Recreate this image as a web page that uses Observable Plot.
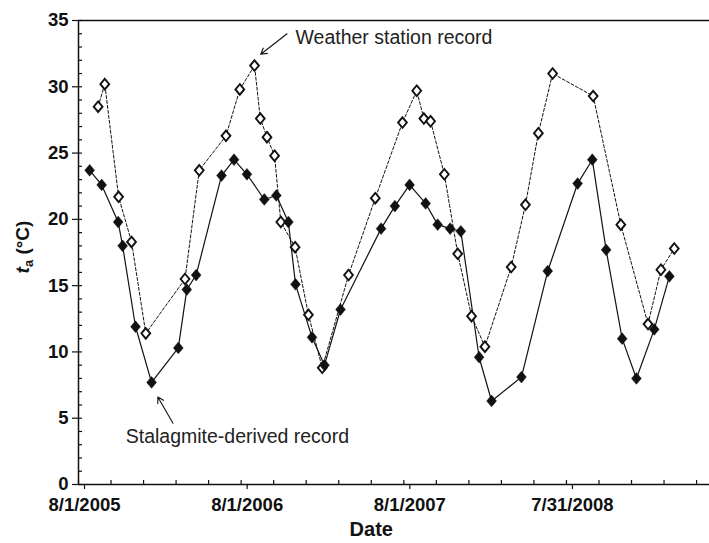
<!DOCTYPE html>
<html><head><meta charset="utf-8">
<script src="https://cdn.jsdelivr.net/npm/d3@7"></script>
<script src="https://cdn.jsdelivr.net/npm/@observablehq/plot@0.6"></script>
<style>body{margin:0;background:#fff} svg{display:block}</style>
</head><body><div id="chart"></div>
<script>
// Stalagmite-derived record (filled diamonds, solid line)
const stalDates = ["2005-08-26","2005-09-22","2005-10-29","2005-11-08","2005-12-07","2006-01-12","2006-03-13","2006-04-01","2006-04-22","2006-06-18","2006-07-16","2006-08-14","2006-09-22","2006-10-19","2006-11-15","2006-12-01","2007-01-07","2007-02-04","2007-03-12","2007-06-11","2007-07-12","2007-08-14","2007-09-19","2007-10-16","2007-11-13","2007-12-07","2008-01-17","2008-02-14","2008-04-21","2008-06-19","2008-08-25","2008-09-27","2008-10-28","2008-12-03","2009-01-04","2009-02-13","2009-03-19"];
const stalValues = [23.7,22.6,19.8,18.0,11.9,7.7,10.3,14.7,15.8,23.3,24.5,23.4,21.5,21.8,19.8,15.1,11.1,9.0,13.2,19.3,21.0,22.6,21.2,19.6,19.3,19.1,9.6,6.3,8.1,16.1,22.7,24.5,17.7,11.0,8.0,11.7,15.7];

// Weather station record (open diamonds, dashed line)
const wsDates = ["2005-09-14","2005-09-29","2005-10-30","2005-11-28","2005-12-30","2006-03-28","2006-04-29","2006-06-28","2006-07-29","2006-08-31","2006-09-13","2006-09-28","2006-10-15","2006-10-29","2006-11-30","2006-12-30","2007-01-30","2007-03-30","2007-05-29","2007-07-29","2007-08-30","2007-09-15","2007-09-30","2007-10-31","2007-11-30","2007-12-31","2008-01-30","2008-03-29","2008-04-30","2008-05-29","2008-06-30","2008-09-29","2008-11-30","2009-01-30","2009-02-28","2009-03-30"];
const wsValues = [28.5,30.2,21.7,18.3,11.4,15.5,23.7,26.3,29.8,31.6,27.6,26.2,24.8,19.8,17.9,12.8,8.8,15.8,21.6,27.3,29.7,27.6,27.4,23.4,17.4,12.7,10.4,16.4,21.1,26.5,31.0,29.3,19.6,12.1,16.2,17.8];

// Axis ticks
const xDomain = ["2005-08-01","2009-06-17"];
const xMajorTicks = ["2005-08-01","2006-08-01","2007-08-01","2008-07-31"];
const xTickLabels = ["8/1/2005","8/1/2006","8/1/2007","7/31/2008"];
const xMinorTicks = ["2005-10-13","2005-12-25","2006-03-08","2006-05-20","2006-10-13","2006-12-25","2007-03-08","2007-05-20","2007-10-13","2007-12-25","2008-03-07","2008-05-19","2008-10-12","2008-12-24","2009-03-07","2009-05-19"];
const yMajorTicks = [0,5,10,15,20,25,30,35];
const yMinorTicks = [1,2,3,4,6,7,8,9,11,12,13,14,16,17,18,19,21,22,23,24,26,27,28,29,31,32,33,34];

// Annotations
const annoLabels = ["Weather station record","Stalagmite-derived record"];
const annoTextDates = ["2006-12-01","2005-11-15"];
const annoTextValues = [33.7,3.62];
const arrowFromDates = ["2006-11-12","2006-03-01"];
const arrowFromValues = [34.0,4.62];
const arrowToDates = ["2006-09-14","2006-01-26"];
const arrowToValues = [32.45,6.6];
const xTitle = "Date";
const xTitleDate = "2007-05-20";

const P = s => new Date(s);
const stal = stalDates.map((d,i)=>({date:P(d), v:stalValues[i]}));
const ws = wsDates.map((d,i)=>({date:P(d), v:wsValues[i]}));
const labelMap = new Map(xMajorTicks.map((d,i)=>[+P(d), xTickLabels[i]]));
const annos = annoLabels.map((t,i)=>({t, x:P(annoTextDates[i]), y:annoTextValues[i],
  x1:P(arrowFromDates[i]), y1:arrowFromValues[i], x2:P(arrowToDates[i]), y2:arrowToValues[i]}));
const allXTicks = xMajorTicks.concat(xMinorTicks).map(P);
const allYTicks = yMajorTicks.concat(yMinorTicks);
const ink = "#111";
const font = "'Liberation Sans', Arial, sans-serif";

// slightly tall rhombus symbol
const rhombus = {
  draw(context, size) {
    const r = Math.sqrt(size / Math.PI);
    const w = r, h = r * 1.2;
    context.moveTo(0, -h); context.lineTo(w, 0); context.lineTo(0, h); context.lineTo(-w, 0); context.closePath();
  }
};

const chart = Plot.plot({
  width: 709, height: 543,
  marginLeft: 78, marginRight: 0, marginTop: 20, marginBottom: 59,
  style: {fontFamily: font, color: ink, background: "#fff", overflow: "visible"},
  x: {type: "utc", domain: xDomain.map(P)},
  y: {domain: [0, 35]},
  marks: [
    Plot.ruleY([0, 35], {stroke: ink, strokeWidth: 1.5}),
    Plot.ruleX([P(xDomain[0])], {stroke: ink, strokeWidth: 1.5}),
    Plot.axisY({ticks: yMajorTicks, tickSize: 6, tickPadding: 4, fontSize: 18.5, fontWeight: "bold", label: null, stroke: ink, strokeWidth: 1.2}),
    Plot.axisY({ticks: allYTicks, tickSize: -4, text: null, label: null, stroke: ink, strokeWidth: 1.2}),
    Plot.axisX({ticks: xMajorTicks.map(P), tickSize: 5, tickPadding: 8, tickFormat: d => labelMap.get(+d), fontSize: 18.5, fontWeight: "bold", dx: 6, label: null, stroke: ink, strokeWidth: 1.2}),
    Plot.axisX({ticks: allXTicks, tickSize: -4, text: null, label: null, stroke: ink, strokeWidth: 1.2}),
    Plot.line(ws, {x: "date", y: "v", stroke: ink, strokeWidth: 1, strokeDasharray: "3,2"}),
    Plot.line(stal, {x: "date", y: "v", stroke: ink, strokeWidth: 1.2}),
    Plot.dot(ws, {x: "date", y: "v", symbol: rhombus, r: 4.4, fill: "white", stroke: ink, strokeWidth: 1.9}),
    Plot.dot(stal, {x: "date", y: "v", symbol: rhombus, r: 4.9, fill: ink, stroke: ink, strokeWidth: 0.5}),
    Plot.arrow(annos, {x1: "x1", y1: "y1", x2: "x2", y2: "y2", stroke: ink, strokeWidth: 1.1, headLength: 9}),
    Plot.text(annos, {x: "x", y: "y", text: "t", textAnchor: "start", fontSize: 19.5, fill: "#222", fontFamily: font}),
    Plot.text([xTitle], {x: () => P(xTitleDate), text: d => d, frameAnchor: "bottom", dy: 51, fontSize: 20, fontWeight: "bold", fill: ink})
  ]
});

const svg = d3.select(chart);
const lab = svg.append("text")
  .attr("transform", "translate(29,247) rotate(-90)")
  .attr("text-anchor", "middle")
  .attr("fill", ink)
  .style("font-family", font).style("font-weight", "bold").style("font-size", "19px");
lab.append("tspan").attr("font-style", "italic").text("t");
lab.append("tspan").attr("dy", 4).style("font-size", "13px").text("a");
lab.append("tspan").attr("dy", -4).text(" (°C)");

document.getElementById("chart").append(chart);
</script>
</body></html>
